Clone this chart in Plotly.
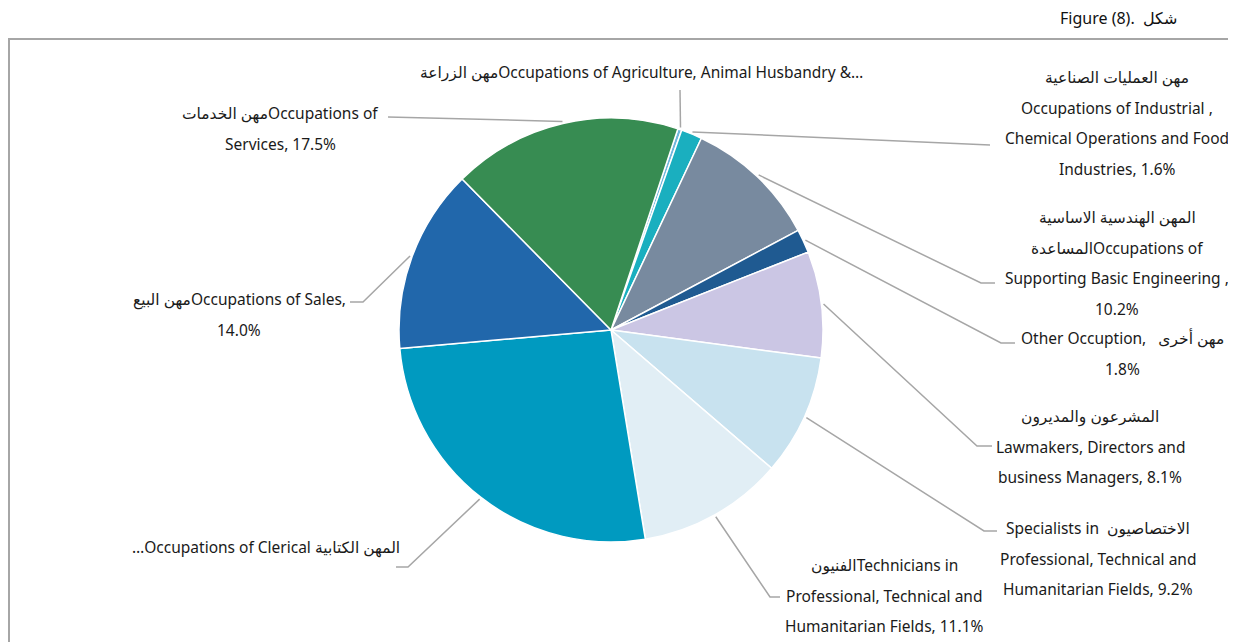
import math
import plotly.graph_objects as go

W, H = 1236, 642
OFF = 8  # page body margin offset

# ---------------- data ----------------
categories = [
    "Agriculture, Animal Husbandry",
    "Industrial, Chemical Operations and Food Industries",
    "Supporting Basic Engineering",
    "Other Occuption",
    "Lawmakers, Directors and business Managers",
    "Specialists in Professional, Technical and Humanitarian Fields",
    "Technicians in Professional, Technical and Humanitarian Fields",
    "Clerical",
    "Sales",
    "Services",
]
values = [0.3, 1.6, 10.2, 1.8, 8.1, 9.2, 11.1, 26.2, 14.0, 17.5]
label_lines = [
    ["مهن الزراعةOccupations of Agriculture, Animal Husbandry &…"],
    ["مهن العمليات الصناعية", "Occupations of Industrial ,",
     "Chemical Operations and Food", "Industries, 1.6%"],
    ["المهن الهندسية الاساسية", "المساعدةOccupations of",
     "Supporting Basic Engineering ,", "10.2%"],
    ["Other Occuption,   مهن أخرى", "1.8%"],
    ["المشرعون والمديرون", "Lawmakers, Directors and", "business Managers, 8.1%"],
    ["Specialists in  الاختصاصيون", "Professional, Technical and",
     "Humanitarian Fields, 9.2%"],
    ["الفنيونTechnicians in", "Professional, Technical and",
     "Humanitarian Fields, 11.1%"],
    ["…Occupations of Clerical المهن الكتابية"],
    ["مهن البيعOccupations of Sales,", "14.0%"],
    ["مهن الخدماتOccupations of", "Services, 17.5%"],
]
title_text = "Figure (8).  شكل"

# ---------------- layout / style ----------------
colors = ["#6fb6dc", "#1aafbf", "#788a9f", "#1f5a91", "#cbc6e4",
          "#c8e2ef", "#e1eef5", "#009ac0", "#2167ab", "#378c52"]
CX, CY, R = 611, 330, 212
ROT = 18.4
LINE_GAP = 30.5
# (center x, first line y) of each label block, in pixels
label_pos = [(641, 72), (1117, 77), (1117, 217), (1122, 338), (1090, 416),
             (1098, 528), (884, 565), (266, 547), (239, 299), (280, 113)]
# leader line: elbow and end points, in pixels (None = straight)
elbows = [None, None, (981, 283), (1001, 343), (977, 446),
          (984, 531), (770, 597), (408, 567), (363, 302), None]
ends = [(680, 90), (990, 145), (995, 283), (1015, 343), (992, 446),
        (997, 531), (780, 597), (396, 567), (350, 302), (388, 117)]


def fx(x):
    return (x - OFF) / W


def fy(y):
    return 1 - (y - OFF) / H


fig = go.Figure(go.Pie(
    labels=categories, values=values, sort=False, direction="clockwise",
    rotation=ROT, textinfo="none", hoverinfo="label+percent",
    marker=dict(colors=colors, line=dict(color="white", width=1.5)),
    domain=dict(x=[fx(CX - R), fx(CX + R)], y=[fy(CY + R), fy(CY - R)]),
    showlegend=False,
))

shapes = []
annotations = []
total = sum(values)
cum = 0.0
for i, v in enumerate(values):
    mid = math.radians(ROT + 360.0 * (cum + v / 2.0) / total)
    cum += v
    r0 = R * 1.01
    sx = CX + r0 * math.sin(mid)
    sy = CY - r0 * math.cos(mid)
    pts = [(sx, sy)]
    if elbows[i] is not None:
        pts.append(elbows[i])
    pts.append(ends[i])
    path = "M " + " L ".join(f"{fx(x):.5f},{fy(y):.5f}" for x, y in pts)
    shapes.append(dict(type="path", path=path, xref="paper", yref="paper",
                       line=dict(color="#a6a6a6", width=1.5)))
    lx, ly = label_pos[i]
    for k, line in enumerate(label_lines[i]):
        annotations.append(dict(
            text=line, x=fx(lx), y=fy(ly + k * LINE_GAP), xref="paper",
            yref="paper", xanchor="center", yanchor="middle",
            showarrow=False, font=dict(size=15.5, color="#1a1a1a")))

annotations.append(dict(text=title_text, x=fx(1179), y=fy(18), xref="paper",
                        yref="paper", xanchor="right", yanchor="middle",
                        showarrow=False, font=dict(size=16, color="#111111")))

shapes.append(dict(type="rect", xref="paper", yref="paper",
                   x0=fx(9), x1=1.02, y0=-0.02, y1=fy(39),
                   line=dict(color="#a6a6a6", width=2), layer="below"))

fig.update_layout(
    width=W, height=H, margin=dict(l=0, r=0, t=0, b=0),
    paper_bgcolor="white", plot_bgcolor="white",
    font=dict(family="Noto Sans, DejaVu Sans, sans-serif"),
    shapes=shapes, annotations=annotations,
)

fig.write_html("out.html")
